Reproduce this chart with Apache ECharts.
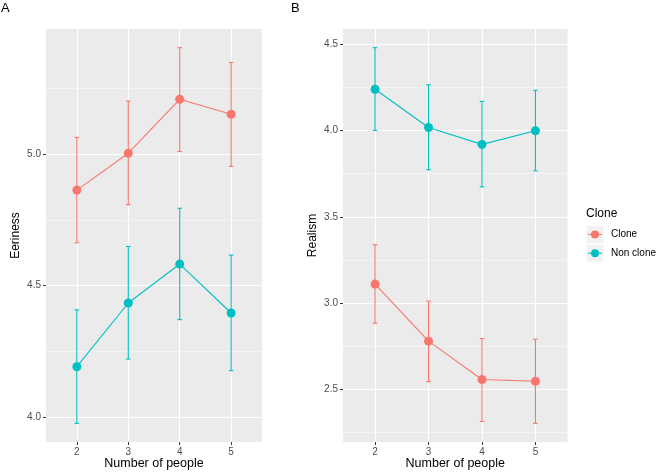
<!DOCTYPE html>
<html>
<head>
<meta charset="utf-8">
<script src="https://cdn.jsdelivr.net/npm/echarts@6/dist/echarts.min.js"></script>
<style>
html,body{margin:0;padding:0;background:#fff;}
#c{width:656px;height:472px;}
</style>
</head>
<body>
<div id="c"></div>
<script>
// ---- data ----
var people = [2, 3, 4, 5];
var seriesNames = ['Clone', 'Non clone'];
var legendTitle = 'Clone';
// Panel A: Eeriness
var eerClone = [4.863, 5.003, 5.208, 5.151];
var eerCloneLo = [4.663, 4.808, 5.010, 4.953];
var eerCloneHi = [5.063, 5.201, 5.404, 5.348];
var eerNon = [4.192, 4.434, 4.582, 4.396];
var eerNonLo = [3.977, 4.221, 4.371, 4.177];
var eerNonHi = [4.408, 4.649, 4.794, 4.616];
// Panel B: Realism
var realClone = [3.110, 2.780, 2.558, 2.548];
var realCloneLo = [2.884, 2.546, 2.315, 2.304];
var realCloneHi = [3.338, 3.012, 2.795, 2.791];
var realNon = [4.238, 4.017, 3.919, 3.998];
var realNonLo = [4.000, 3.772, 3.673, 3.766];
var realNonHi = [4.479, 4.264, 4.168, 4.232];
// tick labels
var ticksA = [4.0, 4.5, 5.0];
var minorA = [4.25, 4.75, 5.25];
var ticksB = [2.5, 3.0, 3.5, 4.0, 4.5];
var minorB = [2.25, 2.75, 3.25, 3.75, 4.25];

var RED = '#F8766D', CYAN = '#00BFC4';
var COLORS = [RED, CYAN];
var FONT = '"Liberation Sans", Arial, Helvetica, sans-serif';

function zip(a, b) { return a.map(function (v, i) { return [v, b[i]]; }); }
function errData(lo, hi) { return people.map(function (p, i) { return [p, lo[i], hi[i]]; }); }

function errSeries(name, lo, hi, color, axisIdx) {
  return {
    type: 'custom', name: name, xAxisIndex: axisIdx, yAxisIndex: axisIdx * 2,
    data: errData(lo, hi), z: 2, silent: true,
    renderItem: function (params, api) {
      var x = api.value(0);
      var lo = api.coord([x, api.value(1)]);
      var hi = api.coord([x, api.value(2)]);
      var w = 2.3;
      var st = { stroke: color, lineWidth: 1.1 };
      return { type: 'group', children: [
        { type: 'line', shape: { x1: lo[0], y1: lo[1], x2: hi[0], y2: hi[1] }, style: st },
        { type: 'line', shape: { x1: lo[0] - w, y1: lo[1], x2: lo[0] + w, y2: lo[1] }, style: st },
        { type: 'line', shape: { x1: hi[0] - w, y1: hi[1], x2: hi[0] + w, y2: hi[1] }, style: st }
      ]};
    }
  };
}
function lineSeries(name, vals, color, axisIdx) {
  return {
    type: 'line', name: name, xAxisIndex: axisIdx, yAxisIndex: axisIdx * 2,
    data: zip(people, vals), symbol: 'circle', symbolSize: 9, z: 3,
    itemStyle: { color: color }, lineStyle: { color: color, width: 1.1 }
  };
}

function xAxis(gi) {
  return {
    type: 'value', gridIndex: gi, min: 1.4, max: 5.6,
    axisLine: { show: false },
    axisTick: { show: true, length: 3, lineStyle: { color: '#333', width: 1 }, customValues: people },
    axisLabel: { customValues: people, color: '#4d4d4d', fontSize: 10, fontFamily: FONT, margin: 5 },
    splitLine: { show: true, lineStyle: { color: '#fff', width: 1.1 } },
    name: 'Number of people', nameLocation: 'middle', nameGap: 15, nameMoveOverlap: false,
    nameTextStyle: { color: '#000', fontSize: 12.5, fontFamily: FONT }
  };
}
function yAxis(gi, mn, mx, ticks, name) {
  return {
    type: 'value', gridIndex: gi, min: mn, max: mx,
    axisLine: { show: false },
    axisTick: { show: true, length: 3, lineStyle: { color: '#333', width: 1 }, customValues: ticks },
    axisLabel: { customValues: ticks, color: '#4d4d4d', fontSize: 10, fontFamily: FONT, margin: 5,
      formatter: function (v) { return v.toFixed(1); } },
    splitLine: { show: true, lineStyle: { color: '#fff', width: 1.1 } },
    name: name, nameLocation: 'middle', nameGap: 24, nameRotate: 90, nameMoveOverlap: false,
    nameTextStyle: { color: '#000', fontSize: 12, fontFamily: FONT }
  };
}
function yMinor(gi, mn, mx, ticks) {
  return {
    type: 'value', gridIndex: gi, min: mn, max: mx,
    axisLine: { show: false },
    axisTick: { show: false, customValues: ticks },
    axisLabel: { show: false, customValues: ticks },
    splitLine: { show: true, lineStyle: { color: '#fafafa', width: 0.6 } }
  };
}

var legendGraphics = [
  { type: 'text', x: 586, y: 208, style: { text: legendTitle, fontSize: 12, fontFamily: FONT, fill: '#000' } }
];
seriesNames.forEach(function (n, i) {
  var top = 226 + i * 18.7, cy = top + 8.5;
  legendGraphics.push(
    { type: 'rect', shape: { x: 586.5, y: top, width: 17, height: 17 }, style: { fill: '#F2F2F2' } },
    { type: 'line', shape: { x1: 588, y1: cy, x2: 602, y2: cy }, style: { stroke: COLORS[i], lineWidth: 1.1 } },
    { type: 'circle', shape: { cx: 595, cy: cy, r: 4 }, style: { fill: COLORS[i] } },
    { type: 'text', x: 611, y: cy, style: { text: n, fontSize: 10, fontFamily: FONT, fill: '#000', verticalAlign: 'middle' } }
  );
});

var chart = echarts.init(document.getElementById('c'), null, { renderer: 'canvas' });
chart.setOption({
  animation: false,
  backgroundColor: '#fff',
  grid: [
    { left: 46, top: 29, width: 216, height: 413, show: true, backgroundColor: '#EBEBEB', borderWidth: 0, outerBoundsMode: 'none', containLabel: false },
    { left: 343, top: 29, width: 224.5, height: 413, show: true, backgroundColor: '#EBEBEB', borderWidth: 0, outerBoundsMode: 'none', containLabel: false }
  ],
  xAxis: [xAxis(0), xAxis(1)],
  yAxis: [
    yAxis(0, 3.906, 5.475, ticksA, 'Eeriness'),
    yMinor(0, 3.906, 5.475, minorA),
    yAxis(1, 2.196, 4.587, ticksB, 'Realism'),
    yMinor(1, 2.196, 4.587, minorB)
  ],
  graphic: [
    { type: 'text', x: 1, y: 2, style: { text: 'A', fontSize: 13, fontFamily: FONT, fill: '#000' } },
    { type: 'text', x: 291, y: 2, style: { text: 'B', fontSize: 13, fontFamily: FONT, fill: '#000' } }
  ].concat(legendGraphics),
  series: [
    errSeries('Clone', eerCloneLo, eerCloneHi, RED, 0),
    errSeries('Non clone', eerNonLo, eerNonHi, CYAN, 0),
    lineSeries('Clone', eerClone, RED, 0),
    lineSeries('Non clone', eerNon, CYAN, 0),
    errSeries('Clone', realCloneLo, realCloneHi, RED, 1),
    errSeries('Non clone', realNonLo, realNonHi, CYAN, 1),
    lineSeries('Clone', realClone, RED, 1),
    lineSeries('Non clone', realNon, CYAN, 1)
  ]
});
</script>
</body>
</html>
